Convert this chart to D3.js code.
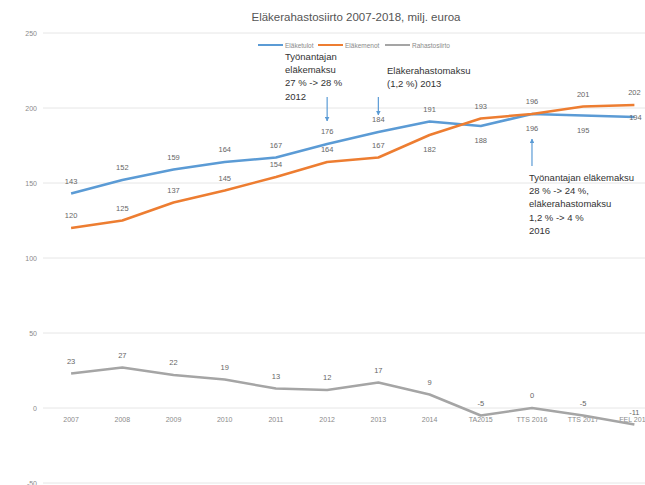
<!DOCTYPE html>
<html>
<head>
<meta charset="utf-8">
<script src="https://cdn.jsdelivr.net/npm/d3@7/dist/d3.min.js"></script>
<style>
  body { margin: 0; background: #fff; }
  svg { font-family: 'Liberation Sans', Arial, sans-serif; }
</style>
</head>
<body>
<div id="chart"></div>
<script>
const categories = ['2007', '2008', '2009', '2010', '2011', '2012', '2013', '2014', 'TA2015', 'TTS 2016', 'TTS 2017', 'FEL 2018'];
const elaketulot = [143, 152, 159, 164, 167, 176, 184, 191, 188, 196, 195, 194];
const elakemenot = [120, 125, 137, 145, 154, 164, 167, 182, 193, 196, 201, 202];
const rahastosiirto = [23, 27, 22, 19, 13, 12, 17, 9, -5, 0, -5, -11];
const yTicks = [-50, 0, 50, 100, 150, 200, 250];
const seriesNames = ['Eläketulot', 'Eläkemenot', 'Rahastosiirto'];

// label placement: t = above, b = below, r = on the point
const tulotPos = ['t', 't', 't', 't', 't', 't', 't', 't', 'b', 'b', 'b', 'r'];
const menotPos = ['t', 't', 't', 't', 't', 't', 't', 'b', 't', 't', 't', 't'];

const width = 645, height = 485;
const colors = ['#5b9bd5', '#ed7d31', '#a5a5a5'];

const svg = d3.select('#chart')
  .append('svg')
    .attr('width', width)
    .attr('height', height);

const x = d3.scaleBand()
  .domain(categories)
  .range([45.5, 660]);

const cx = d => x(d) + x.bandwidth() / 2;

const y = d3.scaleLinear()
  .domain([-50, 250])
  .range([483, 33]);

// gridlines + y tick labels
svg.selectAll('.grid')
  .data(yTicks)
  .enter().append('line')
    .attr('x1', 43)
    .attr('x2', width)
    .attr('y1', d => y(d))
    .attr('y2', d => y(d))
    .attr('stroke', '#e6e6e6')
    .attr('stroke-width', 1);

svg.selectAll('.ytick')
  .data(yTicks)
  .enter().append('text')
    .attr('x', 37)
    .attr('y', d => y(d) + 2.5)
    .attr('text-anchor', 'end')
    .attr('font-size', 7)
    .attr('fill', '#8a8a8a')
    .text(d => d);

// x labels below the zero line
svg.selectAll('.xtick')
  .data(categories)
  .enter().append('text')
    .attr('x', d => cx(d))
    .attr('y', y(0) + 14)
    .attr('text-anchor', 'middle')
    .attr('font-size', 7)
    .attr('fill', '#8a8a8a')
    .text(d => d);

// title
svg.append('text')
  .attr('x', 356)
  .attr('y', 21)
  .attr('text-anchor', 'middle')
  .attr('font-size', 11.5)
  .attr('fill', '#555')
  .text('Eläkerahastosiirto 2007-2018, milj. euroa');

// legend
const legendX = [258, 318, 385];
seriesNames.forEach((name, i) => {
  svg.append('line')
    .attr('x1', legendX[i]).attr('x2', legendX[i] + 25)
    .attr('y1', 45).attr('y2', 45)
    .attr('stroke', colors[i])
    .attr('stroke-width', 2);
  svg.append('text')
    .attr('x', legendX[i] + 27)
    .attr('y', 47.5)
    .attr('font-size', 6.5)
    .attr('fill', '#8a8a8a')
    .text(name);
});

const line = d3.line()
  .x((d, i) => cx(categories[i]))
  .y(d => y(d));

[elaketulot, elakemenot, rahastosiirto].forEach((values, i) => {
  svg.append('path')
    .datum(values)
    .attr('d', line)
    .attr('fill', 'none')
    .attr('stroke', colors[i])
    .attr('stroke-width', 2.5)
    .attr('stroke-linejoin', 'round');
});

function labels(values, pos) {
  svg.append('g').selectAll('text')
    .data(values)
    .enter().append('text')
      .attr('x', (d, i) => pos[i] === 'r' ? cx(categories[i]) + 1 : cx(categories[i]))
      .attr('y', (d, i) => pos[i] === 't' ? y(d) - 10 : pos[i] === 'b' ? y(d) + 17 : y(d) + 2.5)
      .attr('text-anchor', 'middle')
      .attr('font-size', 7.5)
      .attr('fill', '#666')
      .text(d => d);
}
labels(elaketulot, tulotPos);
labels(elakemenot, menotPos);
labels(rahastosiirto, rahastosiirto.map(() => 't'));

// annotations
svg.append('defs').append('marker')
  .attr('id', 'arrow')
  .attr('viewBox', '0 0 10 10')
  .attr('refX', 9).attr('refY', 5)
  .attr('markerWidth', 4).attr('markerHeight', 4)
  .attr('orient', 'auto')
  .append('path')
    .attr('d', 'M0,0L10,5L0,10z')
    .attr('fill', '#5b9bd5');

const notes = [
  { x: 285, y: 60, lines: ['Työnantajan', 'eläkemaksu', '27 % -> 28 %', '2012'] },
  { x: 387, y: 74, lines: ['Eläkerahastomaksu', '(1,2 %) 2013'] },
  { x: 529, y: 181, lines: ['Työnantajan eläkemaksu', '28 % -> 24 %,', 'eläkerahastomaksu', '1,2 % -> 4 %', '2016'] }
];
notes.forEach(n => {
  svg.append('text')
    .attr('font-size', 9.5)
    .attr('fill', '#333')
    .selectAll('tspan')
    .data(n.lines)
    .enter().append('tspan')
      .attr('x', n.x)
      .attr('y', (d, i) => n.y + i * 13.2)
      .text(d => d);
});

const arrows = [
  { x: cx('2012'), y1: 97, y2: 121 },
  { x: cx('2013'), y1: 97, y2: 115 },
  { x: cx('TTS 2016'), y1: 166, y2: 139 }
];
svg.selectAll('.arrow')
  .data(arrows)
  .enter().append('line')
    .attr('x1', d => d.x).attr('x2', d => d.x)
    .attr('y1', d => d.y1).attr('y2', d => d.y2)
    .attr('stroke', '#5b9bd5')
    .attr('stroke-width', 1.2)
    .attr('marker-end', 'url(#arrow)');
</script>
</body>
</html>
